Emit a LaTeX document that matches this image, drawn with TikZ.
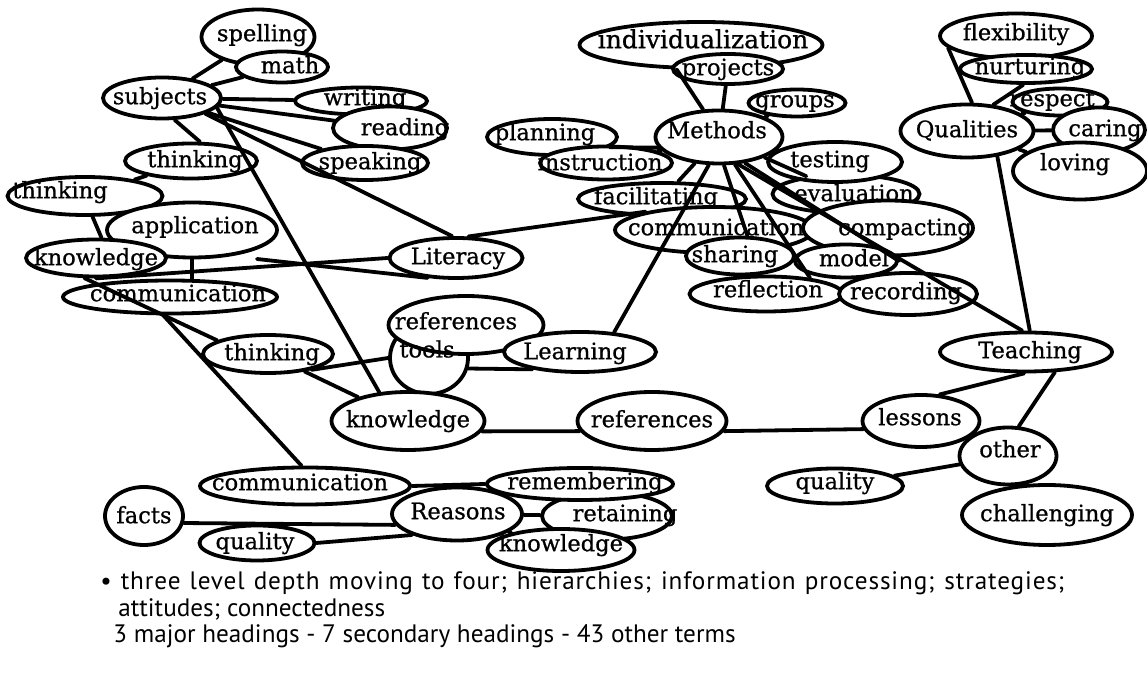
\documentclass[tikz,border=0pt]{standalone}
\usepackage{fontspec}
\setmainfont{DejaVu Serif}
\newfontfamily\nodefont{DejaVu Serif}[FakeBold=0.8]
\newfontfamily\capfont{PT Sans}
\usetikzlibrary{shapes.geometric}

% \mapnode{name}{x,y}{width}{height}{text}{text dx}{text dy}  (all in px, dy upward)
\newcommand\mapnode[7]{%
  \node[bub, minimum width=#3*0.5pt, minimum height=#4*0.5pt] (#1) at (#2)
    {\makebox[0pt]{\raisebox{\dimexpr #7pt/2\relax}[0pt][0pt]{\hspace*{\dimexpr #6pt/2\relax}#5\hspace*{-\dimexpr #6pt/2\relax}}}};}

\begin{document}
\begin{tikzpicture}[x=0.5pt,y=-0.5pt,
  bub/.style={ellipse, draw=black, line width=1.9pt, fill=white, inner sep=0pt,
    text height=8pt, text depth=0.8pt, font=\nodefont\fontsize{11.3}{13}\selectfont},
  link/.style={draw=black, line width=1.9pt, line cap=round},
  word/.style={inner sep=0pt, font=\nodefont\fontsize{11.3}{13}\selectfont},
  caption/.style={inner sep=0pt, anchor=base west, font=\capfont\fontsize{12.6}{15}\selectfont}]
\useasboundingbox (0,0) rectangle (1147,683);

% ---- literacy cluster ----
\mapnode{spelling}{258,37}{113}{55}{spelling}{4}{3}
\mapnode{math}{282,67}{92}{31}{math}{8}{1}
\mapnode{subjects}{162,98}{118}{41}{subjects}{-2}{1}
\mapnode{writing}{361,101}{132}{27}{writing}{4}{3}
\mapnode{reading}{390,128}{114}{43}{reading}{15}{0}
\mapnode{speaking}{365,163}{126}{34}{speaking}{5}{1}
\mapnode{thinking1}{191,161}{132}{35}{thinking}{4}{1}
\mapnode{thinking2}{85,196}{155}{38}{thinking}{-25}{5}
\mapnode{application}{192,230}{170}{55}{application}{3}{4}
\mapnode{knowledgeL}{96,258}{140}{37}{knowledge}{0}{0}
\mapnode{communicationL}{170,297}{214}{33}{communication}{8}{3}
\mapnode{thinking3}{268,354}{130}{38}{thinking}{4}{1}
\mapnode{Literacy}{456,258}{133}{40}{Literacy}{2}{1}

% ---- learning cluster ----
\mapnode{tools}{429,358}{78}{72}{}{0}{0}
\mapnode{referencesU}{466,325}{155}{58}{references}{-10}{3}
\mapnode{Learning}{580,352}{152}{40}{Learning}{-5}{0}
\mapnode{knowledgeM}{408,421}{153}{58}{knowledge}{0}{1}
\mapnode{referencesM}{652,421}{149}{58}{references}{0}{1}
% the tools label sits over the lower rim of the references bubble
\node[word] (toolsText) at (427,349) {tools};

% ---- reasons cluster ----
\mapnode{communicationB}{305,486}{210}{37}{communication}{-5}{3}
\mapnode{facts}{144,516}{78}{58}{facts}{0}{0}
\mapnode{qualityB}{257,543}{115}{35}{quality}{-2}{1}
\mapnode{retaining}{607,516}{130}{47}{retaining}{18}{2}
\mapnode{remembering}{580,484}{186}{32}{remembering}{5}{2}
\mapnode{Reasons}{457,514}{130}{53}{Reasons}{1}{2}
\mapnode{knowledgeB}{561,550}{147}{42}{knowledge}{0}{6}

% ---- methods cluster ----
\mapnode{individualization}{701,45}{243}{46}{{\fontsize{12.5}{14}\selectfont individualization}}{2}{4}
\mapnode{projects}{728,69}{110}{30}{projects}{0}{1}
\mapnode{groups}{797,103}{97}{27}{groups}{-2}{3}
\mapnode{Methods}{719,137}{127}{53}{Methods}{-2}{6}
\mapnode{planning}{552,137}{130}{36}{planning}{-7}{4}
\mapnode{instruction}{606,163}{132}{33}{instruction}{-6}{0}
\mapnode{evaluation}{846,194}{147}{38}{evaluation}{8}{0}
\mapnode{testing}{835,162}{134}{40}{testing}{-5}{2}
\mapnode{facilitating}{662,199}{168}{32}{facilitating}{-6}{2}
\mapnode{communicationC}{714,230}{198}{46}{communication}{2}{2}
\mapnode{compacting}{888,228}{170}{55}{compacting}{17}{0}
\mapnode{sharing}{740,256}{108}{37}{sharing}{-5}{1}
\mapnode{model}{846,261}{102}{33}{model}{8}{2}
\mapnode{reflection}{766,294}{153}{35}{reflection}{2}{4}
\mapnode{recording}{908,294}{138}{42}{recording}{-2}{2}

% ---- qualities / teaching cluster ----
\mapnode{flexibility}{1016,36}{152}{45}{flexibility}{0}{3}
\mapnode{nurturing}{1026,69}{132}{28}{nurturing}{4}{2}
\mapnode{respect}{1060,102}{95}{27}{respect}{-8}{3}
\mapnode{Qualities}{967,131}{133}{53}{Qualities}{0}{1}
\mapnode{caring}{1099,130}{92}{45}{caring}{6}{1}
\mapnode{loving}{1080,171}{134}{57}{loving}{-5}{8}
\mapnode{Teaching}{1026,352}{172}{39}{Teaching}{4}{1}
\mapnode{lessons}{921,421}{117}{52}{lessons}{-1}{3}
\mapnode{qualityR}{835,486}{136}{35}{quality}{0}{4}
\mapnode{other}{1008,456}{97}{57}{other}{2}{6}
\mapnode{challenging}{1047,515}{170}{60}{challenging}{0}{1}

\coordinate (appfoot) at (257,259);

% ---- connectors ----
\draw[link] (subjects) -- (spelling);
\draw[link] (subjects) -- (math);
\draw[link] (subjects) -- (writing);
\draw[link] (subjects) -- (reading);
\draw[link] (subjects) -- (speaking);
\draw[link] (subjects.-60) -- (thinking1.65);
\draw[link] (subjects.-10) -- (knowledgeM.135);
\draw[link] (subjects.-20) -- (Literacy.100);
\draw[link] (thinking1) -- (thinking2);
\draw[link] (thinking2.-70) -- (knowledgeL.75);
\draw[link] (application.south) -- (application.south |- communicationL.north);
\draw[link] (Literacy.215) -- (appfoot);
\draw[link] (knowledgeL.south) -- (Literacy.west);
\draw[link] (Literacy.60) -- (communicationC.165);
\draw[link] (knowledgeL.-120) -- (thinking3.165);
\draw[link] (communicationL.-110) -- (communicationB.100);
\draw[link] (thinking3) -- (knowledgeM);
\draw[link] (thinking3.-20) -- (tools.west);
\draw[link] (tools.-15) -- (Learning.-160);
\draw[link] (knowledgeM.-8) -- (referencesM.188);
\draw[link] (referencesM.-8) -- (lessons.188);

\draw[link] (Learning.30) -- (Methods.-110);
\draw[link] (Methods.120) -- (individualization.-135);
\draw[link] (Methods) -- (projects);
\draw[link] (Methods) -- (groups);
\draw[link] (Methods.190) -- (planning.-10);
\draw[link] (Methods) -- (instruction);
\draw[link] (Methods) -- (testing);
\draw[link] (Methods) -- (evaluation);
\draw[link] (Methods) -- (facilitating);
\draw[link] (Methods.-80) -- (sharing.70);
\draw[link] (Methods.-60) -- (reflection.20);
\draw[link] (Methods.-45) -- (model.east);
\draw[link] (Methods.-55) -- (Teaching.100);

\draw[link] (Qualities.80) -- (flexibility.190);
\draw[link] (Qualities.45) -- (nurturing.-100);
\draw[link] (Qualities) -- (respect);
\draw[link] (Qualities) -- (caring);
\draw[link] (Qualities) -- (loving);
\draw[link] (Qualities.-40) -- (Teaching.80);
\draw[link] (Teaching.-95) -- (lessons.55);
\draw[link] (Teaching.-35) -- (other.70);
\draw[link] (other) -- (qualityR);

\draw[link] (communicationB.east) -- (remembering.west);
\draw[link] (facts.-10) -- (Reasons.190);
\draw[link] (qualityB.east) -- (Reasons.-155);
\draw[link] (Reasons) -- (retaining);
\draw[link] (Reasons) -- (knowledgeB);

% ---- notes ----
\node[caption] (cap1) at (100,590) {\addfontfeature{LetterSpace=3.5}\makebox[482pt][s]{• three level depth moving to four; hierarchies; information processing; strategies;}};
\node[caption] (cap2) at (118,617) {attitudes; connectedness};
\node[caption] (cap3) at (113,643) {3 major headings - 7 secondary headings - 43 other terms};
\end{tikzpicture}
\end{document}
